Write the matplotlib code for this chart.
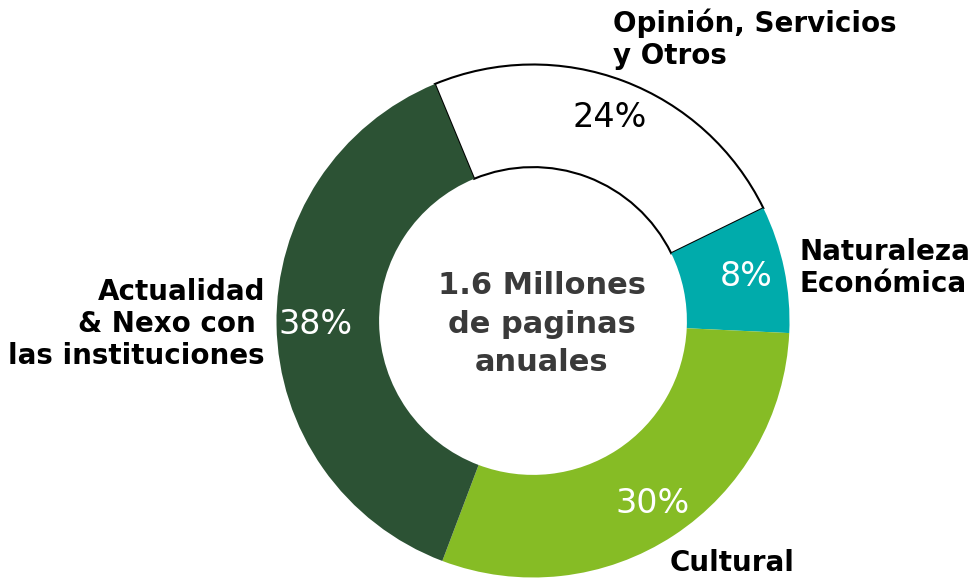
import matplotlib.pyplot as plt

categorias = ["Opinión, Servicios\ny Otros", "Naturaleza\nEconómica", "Cultural",
              "Actualidad\n& Nexo con \nlas instituciones"]
porcentajes = [24, 8, 30, 38]
colores = ["#FFFFFF", "#00ABAB", "#86BC25", "#2C5234"]
color_pct = ["black", "white", "white", "white"]
texto_centro = "1.6 Millones\nde paginas\nanuales"

# pixel -> data (centre 533,321; radius 256.5 px)
CX, CY, R = 533, 321, 256.5


def px(x, y):
    return (x - CX) / R, (CY - y) / R


fig = plt.figure(figsize=(9.74, 5.79), dpi=100)
ax = fig.add_axes([0, 0, 1, 1])

wedges, _, autotexts = ax.pie(
    porcentajes, colors=colores, startangle=112.5, counterclock=False,
    radius=1, autopct="%d%%", pctdistance=0.85,
    wedgeprops=dict(width=0.40, linewidth=0),
    textprops=dict(fontsize=24))

wedges[0].set_edgecolor("black")
wedges[0].set_linewidth(1.5)
for t, c in zip(autotexts, color_pct):
    t.set_color(c)

ax.set_xlim(-CX / R, (974 - CX) / R)
ax.set_ylim(-(579 - CY) / R, CY / R)
ax.set_aspect("equal")
ax.axis("off")

ax.text(*px(542, 324), texto_centro, ha="center", va="center", fontsize=22,
        fontweight="bold", color="#3A3A3A", linespacing=1.4)

posiciones = [(613, 39, "left"), (800, 268, "left"), (670, 563, "left"), (265, 324, "right")]
for nombre, (x, y, ha) in zip(categorias, posiciones):
    ax.text(*px(x, y), nombre, ha=ha, va="center", fontsize=20, fontweight="bold",
            color="black", linespacing=1.2)

fig.savefig("out.png", dpi=100)
